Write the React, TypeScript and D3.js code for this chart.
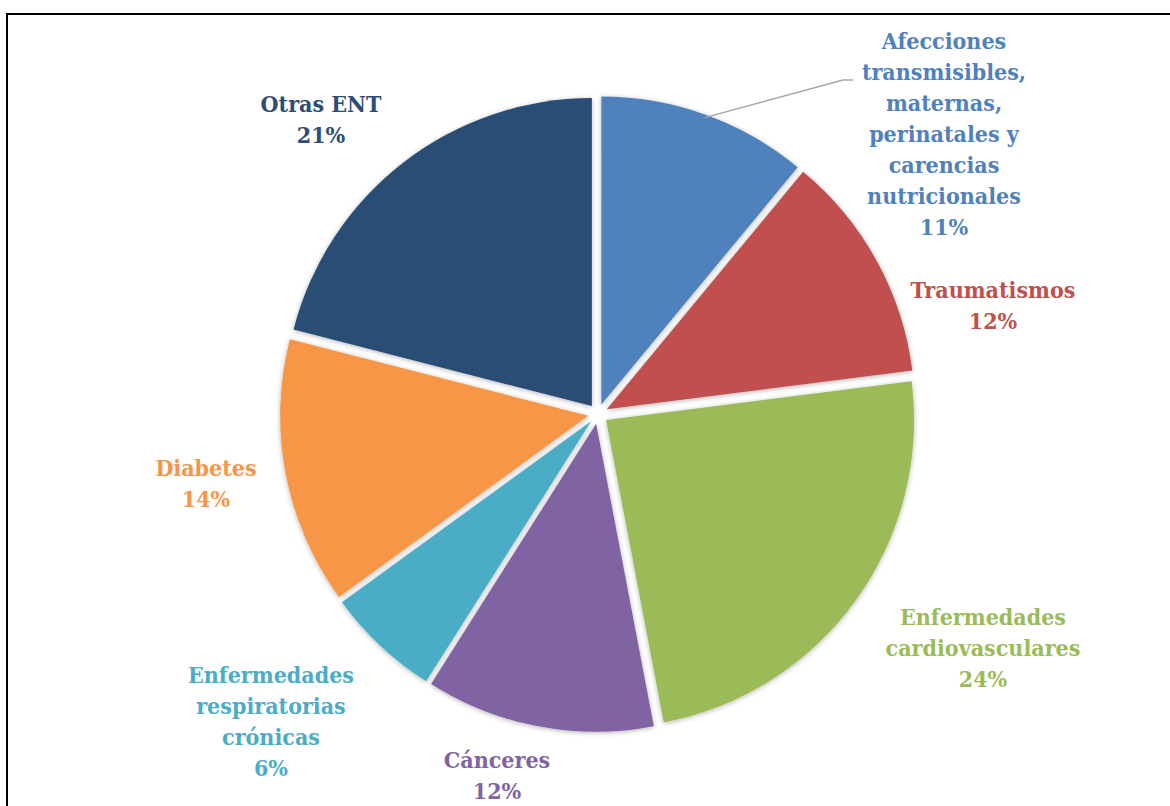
import React, { useEffect, useRef } from 'react';
import * as d3 from 'd3';

// causas de muerte por grupo (%)
const categories = [
  'Afecciones transmisibles, maternas, perinatales y carencias nutricionales',
  'Traumatismos',
  'Enfermedades cardiovasculares',
  'Cánceres',
  'Enfermedades respiratorias crónicas',
  'Diabetes',
  'Otras ENT',
];
const values = [11, 12, 24, 12, 6, 14, 21];
const labelLines = [
  ['Afecciones', 'transmisibles,', 'maternas,', 'perinatales y', 'carencias', 'nutricionales'],
  ['Traumatismos'],
  ['Enfermedades', 'cardiovasculares'],
  ['Cánceres'],
  ['Enfermedades', 'respiratorias', 'crónicas'],
  ['Diabetes'],
  ['Otras ENT'],
];
const colors = ['#4F81BD', '#C0504D', '#9BBB59', '#8064A2', '#4BACC6', '#F79646', '#2C4D75'];

// label anchors (center x, first baseline y) in page px
const labelPos: [number, number][] = [
  [944, 49],
  [993, 298],
  [983, 625],
  [497, 768],
  [271, 683],
  [206, 476],
  [321, 112],
];

export default function App() {
  const svgRef = useRef<SVGSVGElement>(null);

  useEffect(() => {
    const width = 1170;
    const height = 806;
    const cx = 598;
    const cy = 414;
    const radius = 308;
    const explode = 10;
    const lineH = 31;

    const svg = d3.select(svgRef.current).attr('width', width).attr('height', height);
    svg.selectAll('*').remove();

    const defs = svg.append('defs');
    const f = defs.append('filter').attr('id', 'sh').attr('x', '-20%').attr('y', '-20%').attr('width', '140%').attr('height', '140%');
    f.append('feDropShadow')
      .attr('dx', 0).attr('dy', 1)
      .attr('stdDeviation', 2.5)
      .attr('flood-color', '#000')
      .attr('flood-opacity', 0.3);

    // frame
    svg.append('path')
      .attr('d', `M7,${height + 5}V14H${width + 5}`)
      .attr('fill', 'none')
      .attr('stroke', '#000')
      .attr('stroke-width', 2);

    const data = categories.map((c, i) => ({ c, v: values[i], i }));
    const pie = d3.pie<any>().sort(null).value(d => d.v);
    const arc = d3.arc<any>().innerRadius(0).outerRadius(radius);
    const arcs = pie(data);

    const g = svg.append('g').attr('transform', `translate(${cx},${cy})`);

    g.selectAll('path.slice')
      .data(arcs)
      .enter()
      .append('path')
      .attr('class', 'slice')
      .attr('d', arc)
      .attr('fill', d => colors[d.data.i])
      .attr('filter', 'url(#sh)')
      .attr('transform', d => {
        const a = (d.startAngle + d.endAngle) / 2;
        return `translate(${explode * Math.sin(a)},${-explode * Math.cos(a)})`;
      });

    // leader line for first slice
    const a0 = arcs[0];
    const ma = (a0.startAngle + a0.endAngle) / 2;
    const sx = cx + (explode + radius - 3) * Math.sin(ma);
    const sy = cy - (explode + radius - 3) * Math.cos(ma);
    svg.append('path')
      .attr('d', `M${sx},${sy}L${labelPos[0][0] - 101},${labelPos[0][1] + 31}H${labelPos[0][0] - 91}`)
      .attr('fill', 'none')
      .attr('stroke', '#A6A6A6')
      .attr('stroke-width', 1.3);

    const labels = svg.append('g')
      .attr('font-family', '"DejaVu Serif", "Liberation Serif", serif')
      .attr('font-stretch', 'condensed')
      .attr('font-weight', 'bold')
      .attr('font-size', 23)
      .attr('text-anchor', 'middle');

    data.forEach(d => {
      const [x, y] = labelPos[d.i];
      const lines = [...labelLines[d.i], `${d.v}%`];
      const t = labels.append('text').attr('fill', colors[d.i]);
      lines.forEach((ln, k) => {
        t.append('tspan').attr('x', x).attr('y', y + k * lineH).text(ln);
      });
    });
  }, []);

  return (
    <div style={{ position: 'absolute', left: 0, top: 0, width: 1170, height: 806, overflow: 'hidden', background: '#fff' }}>
      <svg ref={svgRef} style={{ display: 'block' }} />
    </div>
  );
}
